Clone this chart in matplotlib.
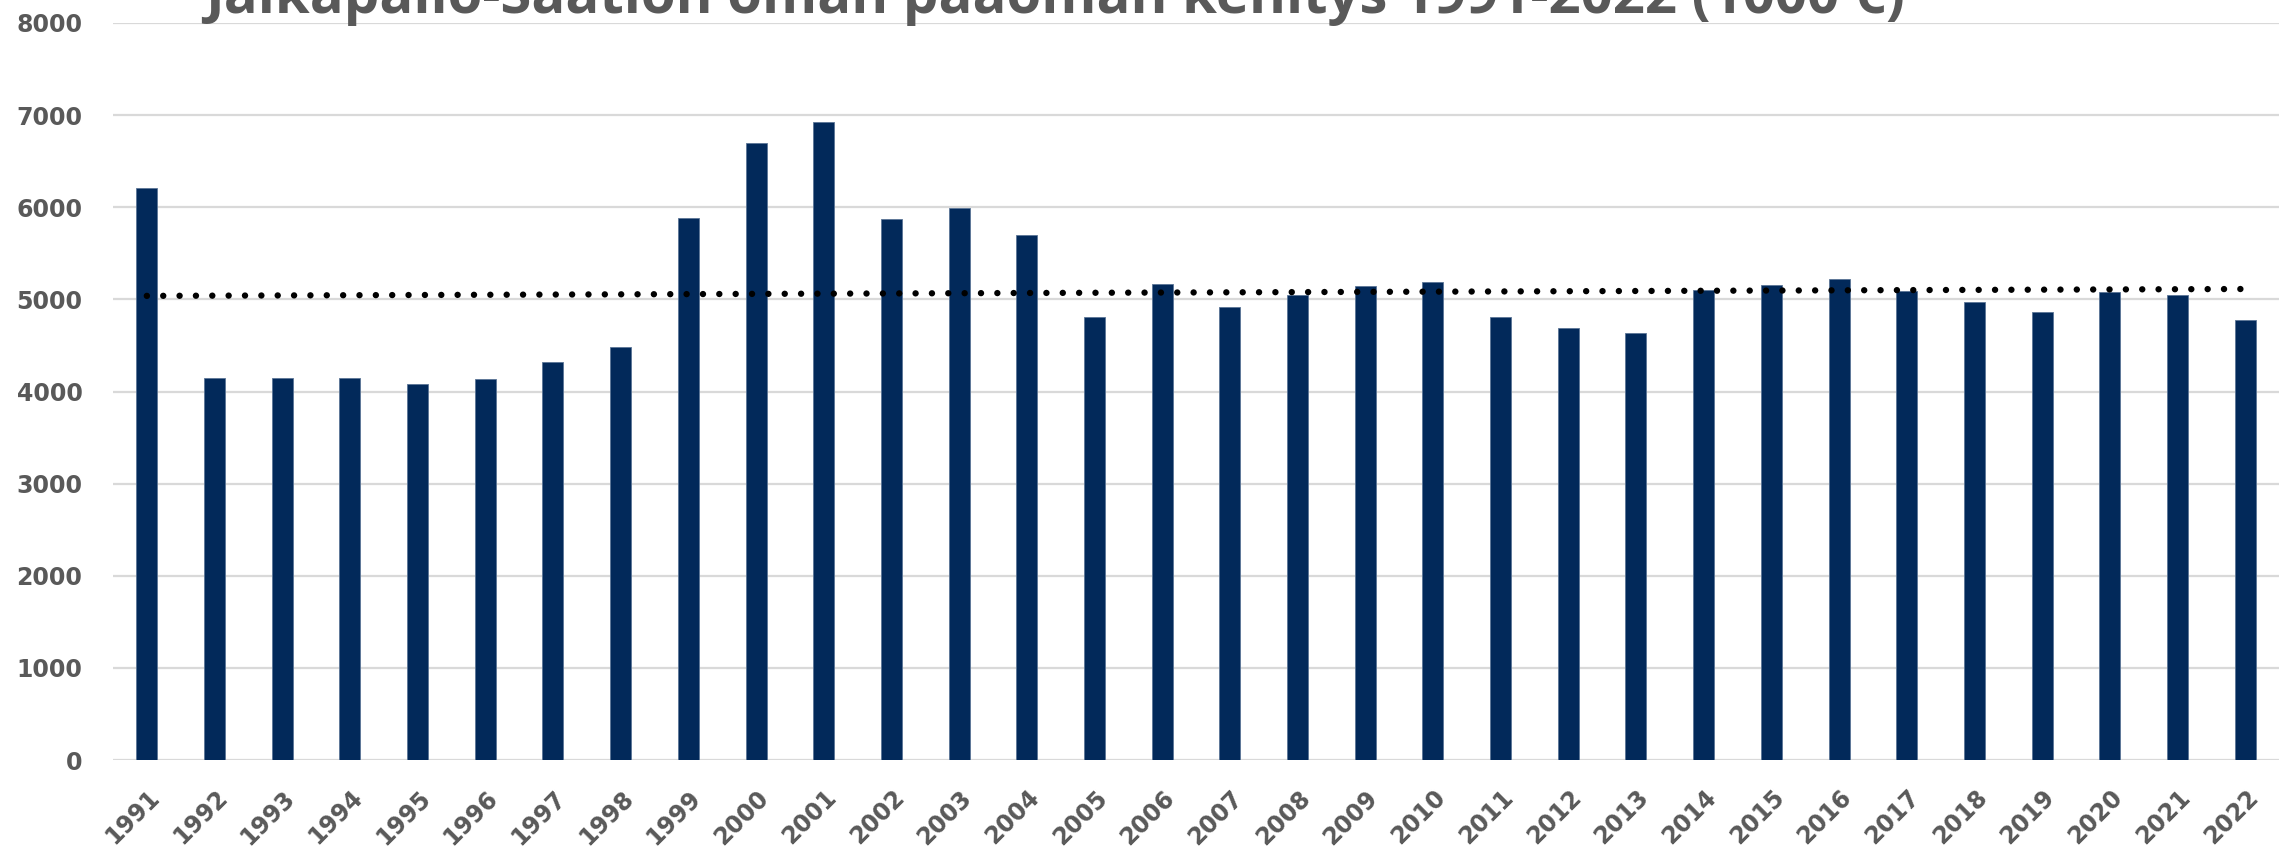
import numpy as np
import matplotlib
matplotlib.use("Agg")
import matplotlib.pyplot as plt
import matplotlib.transforms as mtransforms

# data (1000 €)
years = [str(y) for y in range(1991, 2023)]
pääoma = [6210, 4145, 4145, 4145, 4083, 4134, 4325, 4481, 5879, 6700,
          6922, 5871, 5990, 5694, 4806, 5162, 4914, 5047, 5144, 5191,
          4806, 4687, 4637, 5101, 5151, 5216, 5090, 4968, 4860, 5079,
          5050, 4777]
yticks = [0, 1000, 2000, 3000, 4000, 5000, 6000, 7000, 8000]
title = "Jalkapallo-Säätiön oman pääoman kehitys 1991-2022 (1000 €)"

navy = "#02295a"
grey = "#595959"

fig = plt.figure(figsize=(22.79, 8.51), dpi=100)
ax = fig.add_axes([113 / 2279, 1 - 760 / 851, 2166 / 2279, (760 - 23) / 851])

x = np.arange(len(years))
ax.bar(x, pääoma, width=0.31, color=navy, edgecolor="#5a7596", linewidth=0.6, zorder=3)

# lineaarinen trendiviiva (kuten Excelissä)
k, b = np.polyfit(x, pääoma, 1)
ax.plot(x, k * x + b, color="black", linewidth=4.6, linestyle=(0, (0.01, 2.55)),
        dash_capstyle="round", zorder=4)

ax.set_xlim(-0.5, len(years) - 0.5)
ax.set_ylim(0, 8000)
ax.set_yticks(yticks)
ax.set_yticklabels([str(v) for v in yticks])
ax.grid(axis="y", color="#d9d9d9", linewidth=1.6, zorder=0)
ax.set_axisbelow(True)
for s in ax.spines.values():
    s.set_visible(False)
ax.tick_params(axis="y", length=0, pad=22, labelsize=17, labelcolor=grey)
ax.tick_params(axis="x", length=0, pad=0)
for lab in ax.get_yticklabels():
    lab.set_fontweight("bold")

ax.set_xticks(x)
ax.set_xticklabels(years, rotation=45, ha="right", va="center",
                   rotation_mode="anchor", fontsize=17, fontweight="bold", color=grey)
offset = mtransforms.ScaledTranslation(9 / 100, -34 / 100, fig.dpi_scale_trans)
for lab in ax.get_xticklabels():
    lab.set_transform(lab.get_transform() + offset)

fig.text(205 / 2279, 1 - 13 / 851, title, ha="left", va="baseline",
         fontsize=40.5, fontweight="bold", color=grey, family="Open Sans")

fig.savefig("out.png", dpi=100)
